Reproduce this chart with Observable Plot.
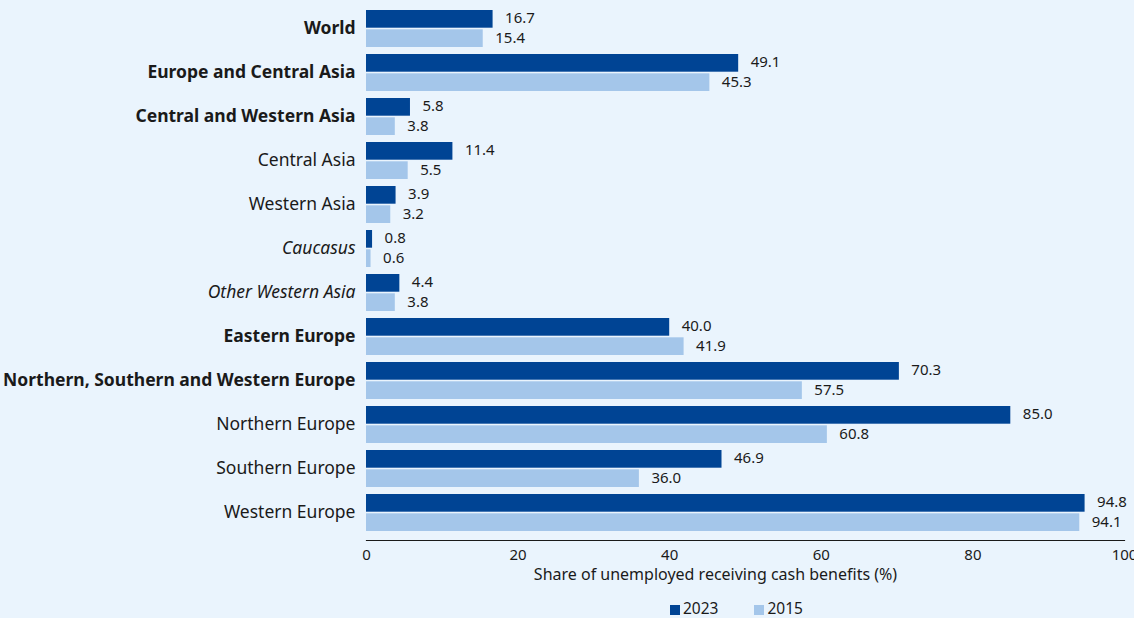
<!DOCTYPE html>
<html>
<head>
<meta charset="utf-8">
<script src="https://cdn.jsdelivr.net/npm/d3@7"></script>
<script src="https://cdn.jsdelivr.net/npm/@observablehq/plot@0.6"></script>
<style>
  html, body { margin: 0; padding: 0; background: #eaf4fd; }
  body { width: 1134px; height: 618px; overflow: hidden; font-family: "Noto Sans", sans-serif; color: #1a1a1a; }
  #chart svg { display: block; background: #eaf4fd; }
  .legend { position: absolute; top: 598px; left: 670px; font-size: 15.5px; line-height: 20px; display: flex; gap: 0; }
  .legend span.item { display: inline-flex; align-items: center; margin-right: 36px; }
  .legend span.sw { display: inline-block; width: 10px; height: 10px; margin-right: 3px; margin-top: 3px; }
</style>
</head>
<body>
<div id="chart"></div>
<div class="legend">
  <span class="item"><span class="sw" style="background:#004494"></span>2023</span>
  <span class="item"><span class="sw" style="background:#a4c6ea"></span>2015</span>
</div>
<script>
const regions = ["World", "Europe and Central Asia", "Central and Western Asia", "Central Asia", "Western Asia", "Caucasus", "Other Western Asia", "Eastern Europe", "Northern, Southern and Western Europe", "Northern Europe", "Southern Europe", "Western Europe"];
const labelStyles = ["bold", "bold", "bold", "normal", "normal", "italic", "italic", "bold", "bold", "normal", "normal", "normal"];
const values2023 = [16.7, 49.1, 5.8, 11.4, 3.9, 0.8, 4.4, 40.0, 70.3, 85.0, 46.9, 94.8];
const values2015 = [15.4, 45.3, 3.8, 5.5, 3.2, 0.6, 3.8, 41.9, 57.5, 60.8, 36.0, 94.1];
const xTicks = [0, 20, 40, 60, 80, 100];
const xTitle = "Share of unemployed receiving cash benefits (%)";

const dark = "#004494";
const light = "#a4c6ea";

const rows = regions.map((r, i) => ({region: r, style: labelStyles[i], v2023: values2023[i], v2015: values2015[i]}));

const chart = Plot.plot({
  width: 1134,
  height: 595,
  marginLeft: 366,
  marginRight: 10,
  marginTop: 0,
  marginBottom: 55,
  style: {fontFamily: "'Noto Sans', sans-serif", background: "#eaf4fd", color: "#1a1a1a"},
  x: {domain: [0, 100]},
  y: {domain: regions, paddingInner: 0.16, paddingOuter: 0.2, axis: null},
  marks: [
    Plot.barX(rows, {y: "region", x: "v2023", fill: dark, insetBottom: 19.3}),
    Plot.barX(rows, {y: "region", x: "v2015", fill: light, insetTop: 19.3}),
    Plot.text(rows, {y: "region", x: "v2023", text: d => d.v2023.toFixed(1), dx: 12, dy: -10.7, textAnchor: "start", fontSize: 15, fill: "#1a1a1a"}),
    Plot.text(rows, {y: "region", x: "v2015", text: d => d.v2015.toFixed(1), dx: 12, dy: 9.3, textAnchor: "start", fontSize: 15, fill: "#1a1a1a"}),
    Plot.text(rows.filter(d => d.style === "bold"), {y: "region", text: "region", frameAnchor: "left", dx: -11, dy: -1, textAnchor: "end", fontSize: 17.5, fontWeight: "bold", fill: "#1a1a1a"}),
    Plot.text(rows.filter(d => d.style === "normal"), {y: "region", text: "region", frameAnchor: "left", dx: -11, dy: -1, textAnchor: "end", fontSize: 17.5, fill: "#1a1a1a"}),
    Plot.text(rows.filter(d => d.style === "italic"), {y: "region", text: "region", frameAnchor: "left", dx: -11, dy: -1, textAnchor: "end", fontSize: 17.5, fontStyle: "italic", fill: "#1a1a1a"}),
    Plot.frame({anchor: "bottom", stroke: "#1a1a1a", strokeWidth: 1.2}),
    Plot.axisX({ticks: xTicks, tickSize: 0, tickPadding: 9, fontSize: 15, label: null}),
    Plot.text([xTitle], {frameAnchor: "bottom", dx: -30, dy: 39, fontSize: 16, fill: "#1a1a1a"})
  ]
});
document.getElementById("chart").append(chart);
</script>
</body>
</html>
